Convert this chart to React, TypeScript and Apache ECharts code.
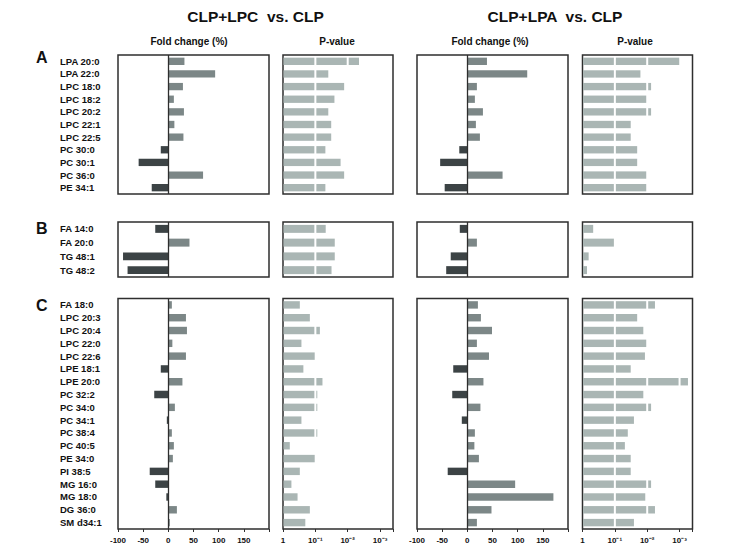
import React, { useEffect, useRef } from 'react';
import * as echarts from 'echarts';

// ---------- data ----------
const catA = ['LPA 20:0', 'LPA 22:0', 'LPC 18:0', 'LPC 18:2', 'LPC 20:2', 'LPC 22:1', 'LPC 22:5', 'PC 30:0', 'PC 30:1', 'PC 36:0', 'PE 34:1'];
const catB = ['FA 14:0', 'FA 20:0', 'TG 48:1', 'TG 48:2'];
const catC = ['FA 18:0', 'LPC 20:3', 'LPC 20:4', 'LPC 22:0', 'LPC 22:6', 'LPE 18:1', 'LPE 20:0', 'PC 32:2', 'PC 34:0', 'PC 34:1', 'PC 38:4', 'PC 40:5', 'PE 34:0', 'PI 38:5', 'MG 16:0', 'MG 18:0', 'DG 36:0', 'SM d34:1'];

// CLP+LPC vs. CLP : fold change (%) and -log10(P)
const fcLpcA = [32, 93, 29, 11, 31, 12, 30, -15, -59, 69, -33];
const pvLpcA = [2.35, 1.4, 1.89, 1.59, 1.4, 1.49, 1.49, 1.31, 1.78, 1.89, 1.31];
const fcLpcB = [-26, 42, -90, -81];
const pvLpcB = [1.32, 1.6, 1.6, 1.5];
const fcLpcC = [7, 35, 37, 8, 35, -15, 28, -28, 13, -3, 7, 11, 9, -37, -26, -4, 17, 3];
const pvLpcC = [0.52, 0.83, 1.14, 0.57, 0.98, 0.63, 1.22, 1.06, 1.06, 0.57, 1.06, 0.21, 0.98, 0.52, 0.26, 0.45, 0.83, 0.69];

// CLP+LPA vs. CLP
const fcLpaA = [39, 119, 19, 15, 31, 17, 25, -16, -54, 70, -45];
const pvLpaA = [2.99, 1.79, 2.12, 1.97, 2.12, 1.49, 1.49, 1.69, 1.69, 1.97, 1.97];
const fcLpaB = [-15, 19, -33, -42];
const pvLpaB = [0.33, 0.97, 0.19, 0.14];
const fcLpaC = [21, 27, 49, 19, 43, -28, 32, -30, 26, -11, 15, 14, 23, -39, 95, 171, 48, 19];
const pvLpaC = [2.24, 1.69, 1.88, 1.97, 1.93, 1.49, 3.26, 1.88, 2.12, 1.59, 1.4, 1.31, 1.49, 1.49, 2.12, 1.94, 2.24, 1.59];

const fcTickLabels = ['-100', '-50', '0', '50', '100', '150'];
const pvTickLabels = ['1', '10⁻¹', '10⁻²', '10⁻³'];
const comparisonTitles = ['CLP+LPC  vs. CLP', 'CLP+LPA  vs. CLP'];
const panelLetters = ['A', 'B', 'C'];

// ---------- style ----------
const POS = '#7c8787';
const NEG = '#3c4345';
const PV = '#aab6b4';
const FRAME = '#2e2e2e';
const FONT = '"Liberation Sans", Arial, sans-serif';

const colLeft = [118, 283, 417, 582.5];
const colWidth = [151, 110, 151, 110];
const rowTop = [55, 222, 298.5];
const rowHeight = [139, 55, 230.5];

export default function App() {
  const ref = useRef<HTMLDivElement>(null);

  useEffect(() => {
    document.body.style.margin = '0';
    if (!ref.current) return;
    const chart = echarts.init(ref.current, undefined, { renderer: 'svg' });

    const rows = [
      { cats: catA, fc: [fcLpcA, fcLpaA], pv: [pvLpcA, pvLpaA] },
      { cats: catB, fc: [fcLpcB, fcLpaB], pv: [pvLpcB, pvLpaB] },
      { cats: catC, fc: [fcLpcC, fcLpaC], pv: [pvLpcC, pvLpaC] },
    ];

    const grid: any[] = [];
    const xAxis: any[] = [];
    const yAxis: any[] = [];
    const series: any[] = [];

    rows.forEach((row, r) => {
      const isBottom = r === rows.length - 1;
      for (let c = 0; c < 4; c++) {
        const gi = grid.length;
        const isFc = c % 2 === 0;
        const cmp = c < 2 ? 0 : 1;
        grid.push({
          left: colLeft[c],
          top: rowTop[r],
          width: colWidth[c],
          height: rowHeight[r],
          show: true,
          borderColor: FRAME,
          borderWidth: 1.5,
          backgroundColor: 'transparent',
          containLabel: false,
        });
        xAxis.push({
          type: 'value',
          gridIndex: gi,
          min: isFc ? -100 : 0,
          max: isFc ? 200 : 3.4,
          interval: isFc ? 50 : 1,
          splitLine: { show: false },
          axisLine: { show: false },
          axisTick: {
            show: isBottom,
            length: 3,
            lineStyle: { color: FRAME, width: 1 },
          },
          axisLabel: {
            show: isBottom,
            margin: 7,
            fontSize: 8,
            fontWeight: 'bold',
            fontFamily: FONT,
            color: '#111',
            formatter: (v: number) => {
              if (isFc) {
                const i = Math.round((v + 100) / 50);
                return Number.isInteger((v + 100) / 50) && i < fcTickLabels.length ? fcTickLabels[i] : '';
              }
              return Number.isInteger(v) && v < pvTickLabels.length ? pvTickLabels[v] : '';
            },
          },
        });
        yAxis.push({
          type: 'category',
          gridIndex: gi,
          data: row.cats,
          inverse: true,
          axisLine: { show: false, onZero: false },
          axisTick: { show: false },
          axisLabel: {
            show: c === 0,
            interval: 0,
            margin: 58,
            align: 'left',
            fontSize: 9.5,
            fontWeight: 'bold',
            fontFamily: FONT,
            color: '#111',
          },
        });
        if (isFc) {
          series.push({
            type: 'bar',
            xAxisIndex: gi,
            yAxisIndex: gi,
            barWidth: '58%',
            data: row.fc[cmp].map((v) => ({ value: v, itemStyle: { color: v < 0 ? NEG : POS } })),
            markLine: {
              silent: true,
              symbol: 'none',
              label: { show: false },
              lineStyle: { color: FRAME, width: 1.3, type: 'solid' },
              data: [{ xAxis: 0 }],
            },
          });
        } else {
          series.push({
            type: 'custom',
            xAxisIndex: gi,
            yAxisIndex: gi,
            encode: { x: 0, y: 1 },
            data: row.pv[cmp].map((v, i) => [v, i]),
            renderItem: (params: any, api: any) => {
              const v = api.value(0) as number;
              const idx = api.value(1) as number;
              const h = api.size([0, 1])[1] * 0.58;
              const yc = api.coord([0, idx])[1];
              const children: any[] = [];
              for (let k = 0; k < v; k++) {
                const a = api.coord([k, idx])[0] + (k > 0 ? 1 : 0.5);
                const b = api.coord([Math.min(v, k + 1), idx])[0] - (k + 1 < v ? 1 : 0);
                if (b > a) {
                  children.push({
                    type: 'rect',
                    shape: { x: a, y: yc - h / 2, width: b - a, height: h },
                    style: { fill: PV },
                  });
                }
              }
              return { type: 'group', children };
            },
          });
        }
      }
    });

    const graphic: any[] = [];
    const pairCenters = [255.5, 555];
    comparisonTitles.forEach((t, i) => {
      graphic.push({
        type: 'text',
        x: pairCenters[i],
        y: 16,
        style: { text: t, font: `bold 15.5px ${FONT}`, fill: '#111', align: 'center', verticalAlign: 'middle' },
      });
    });
    const subCenters = [189, 337, 490, 635];
    subCenters.forEach((x, i) => {
      graphic.push({
        type: 'text',
        x,
        y: 41,
        style: {
          text: i % 2 === 0 ? 'Fold change (%)' : 'P-value',
          font: `bold 10px ${FONT}`,
          fill: '#111',
          align: 'center',
          verticalAlign: 'middle',
        },
      });
    });
    const letterY = [57.5, 228, 305];
    panelLetters.forEach((l, i) => {
      graphic.push({
        type: 'text',
        x: 36,
        y: letterY[i],
        style: { text: l, font: `bold 16px ${FONT}`, fill: '#111', align: 'left', verticalAlign: 'middle' },
      });
    });

    chart.setOption({
      animation: false,
      backgroundColor: '#fff',
      grid,
      xAxis,
      yAxis,
      series,
      graphic,
    });

    return () => chart.dispose();
  }, []);

  return <div ref={ref} style={{ width: 748, height: 550 }} />;
}
